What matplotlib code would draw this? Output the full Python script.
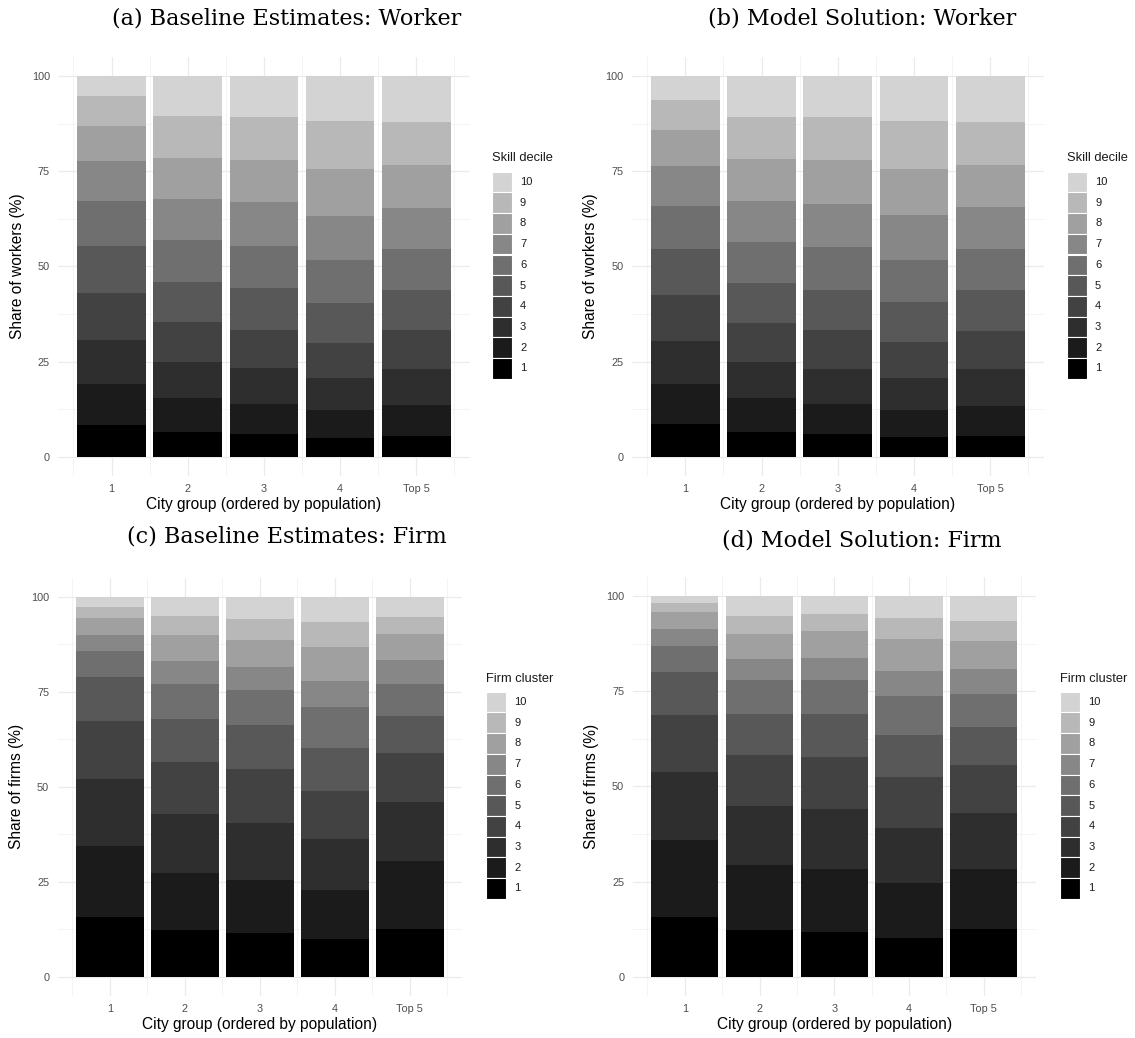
"""
City group composition by skill decile / firm cluster: 2x2 stacked bars.
"""

import matplotlib
matplotlib.use('Agg')
import matplotlib.pyplot as plt
import matplotlib.patches as patches
import numpy as np

W, H = 1135, 1038

groups = ['1', '2', '3', '4', 'Top 5']
levels = [str(i) for i in range(1, 11)]

# shares (%) per city group, decile/cluster 1 -> 10
worker_base = [
    [8.3, 10.9, 11.4, 12.4, 12.3, 11.9, 10.5, 9.2, 7.8, 5.3],
    [6.5, 8.9, 9.5, 10.5, 10.5, 11.0, 10.8, 10.8, 11.0, 10.5],
    [6.0, 7.8, 9.5, 10.0, 11.0, 11.0, 11.6, 11.0, 11.3, 10.8],
    [4.9, 7.4, 8.4, 9.2, 10.5, 11.3, 11.5, 12.4, 12.6, 11.8],
    [5.4, 8.2, 9.4, 10.3, 10.5, 10.8, 10.7, 11.3, 11.3, 12.1],
]
worker_model = [
    [8.6, 10.5, 11.3, 12.1, 12.1, 11.3, 10.5, 9.4, 7.9, 6.3],
    [6.5, 8.9, 9.5, 10.2, 10.5, 10.8, 10.8, 11.0, 11.0, 10.8],
    [6.0, 7.8, 9.2, 10.3, 10.5, 11.3, 11.3, 11.5, 11.3, 10.8],
    [5.2, 7.1, 8.4, 9.4, 10.5, 11.1, 11.8, 12.1, 12.6, 11.8],
    [5.4, 7.9, 9.7, 10.0, 10.8, 10.8, 11.0, 11.0, 11.3, 12.1],
]
firm_base = [
    [15.7, 18.7, 17.6, 15.3, 11.6, 6.8, 4.2, 4.5, 2.9, 2.7],
    [12.3, 15.0, 15.5, 13.7, 11.3, 9.2, 6.1, 6.8, 5.0, 5.1],
    [11.5, 13.9, 15.0, 14.2, 11.6, 9.2, 6.1, 7.1, 5.5, 5.9],
    [9.9, 12.9, 13.4, 12.7, 11.3, 10.8, 6.8, 9.0, 6.5, 6.7],
    [12.5, 17.9, 15.6, 12.9, 9.7, 8.4, 6.3, 6.9, 4.4, 5.4],
]
firm_model = [
    [15.7, 20.2, 17.9, 14.9, 11.3, 6.9, 4.4, 4.5, 2.4, 1.8],
    [12.3, 17.0, 15.5, 13.4, 10.8, 8.9, 5.6, 6.5, 4.7, 5.3],
    [11.7, 16.6, 15.7, 13.7, 11.3, 8.9, 5.8, 7.1, 4.5, 4.7],
    [10.2, 14.4, 14.5, 13.4, 11.0, 10.2, 6.6, 8.4, 5.5, 5.8],
    [12.5, 15.8, 14.7, 12.6, 10.0, 8.7, 6.5, 7.4, 5.2, 6.6],
]

greys = ['#000000', '#1b1b1b', '#2e2e2e', '#424242', '#585858',
         '#6f6f6f', '#878787', '#a0a0a0', '#b8b8b8', '#d3d3d3']

SANS = ['Liberation Sans', 'DejaVu Sans']
SERIF = ['DejaVu Serif']


def px_rect(left, right, top, bottom):
    return [left / W, 1 - bottom / H, (right - left) / W, (bottom - top) / H]


def draw_legend(lay, x0, title_y, keys_top, title):
    # lay: full-figure overlay axes in pixel units (y down)
    kw, kh = 20.0, 20.7
    lay.text(x0, title_y, title, ha='left', va='center', fontsize=9.3,
             family=SANS, color='#1a1a1a')
    for i, k in enumerate(range(len(levels) - 1, -1, -1)):
        y = keys_top + i * kh
        lay.add_patch(patches.Rectangle((x0, y), kw, kh, facecolor=greys[k],
                                        edgecolor='white', linewidth=0.8))
        lay.text(x0 + kw + 8.3, y + kh / 2, levels[k], ha='left',
                 va='center', fontsize=8, family=SANS, color='#1a1a1a')


def draw_panel(fig, rect, data, ylabel):
    ax = fig.add_axes(rect)
    shares = np.array(data)
    x = np.arange(1, len(groups) + 1)
    bottoms = np.zeros(len(groups))
    for k in range(len(levels)):
        ax.bar(x, shares[:, k], 0.9, bottom=bottoms, color=greys[k],
               linewidth=0, zorder=2)
        bottoms += shares[:, k]
    ax.set_xlim(0.3, 5.7)
    ax.set_ylim(-5, 105)
    ax.set_xticks(x)
    ax.set_xticklabels(groups)
    ax.set_xticks(np.arange(0.5, 6.0, 1.0), minor=True)
    ax.set_yticks([0, 25, 50, 75, 100])
    ax.set_yticks([12.5, 37.5, 62.5, 87.5], minor=True)
    ax.grid(which='major', color='#ebebeb', linewidth=0.9, zorder=0)
    ax.grid(which='minor', color='#f2f2f2', linewidth=0.6, zorder=0)
    ax.set_axisbelow(True)
    for s in ax.spines.values():
        s.set_visible(False)
    ax.tick_params(which='both', length=0)
    ax.tick_params(axis='both', pad=6, labelsize=7.8, labelcolor='#4d4d4d')
    for lab in ax.get_xticklabels() + ax.get_yticklabels():
        lab.set_family(SANS)
    ax.set_xlabel('City group (ordered by population)', fontsize=11.2,
                  family=SANS, labelpad=2)
    ax.set_ylabel(ylabel, fontsize=11.2, family=SANS, labelpad=5)
    return ax


def main():
    fig = plt.figure(figsize=(W / 100, H / 100), dpi=100)

    draw_panel(fig, px_rect(58.2, 469.7, 57.0, 475.7), worker_base,
               'Share of workers (%)')
    draw_panel(fig, px_rect(631.9, 1043.7, 57.0, 475.7), worker_model,
               'Share of workers (%)')
    draw_panel(fig, px_rect(57.5, 462.3, 577.7, 995.7), firm_base,
               'Share of firms (%)')
    draw_panel(fig, px_rect(632.5, 1036.1, 577.0, 995.7), firm_model,
               'Share of firms (%)')

    # overlay in pixel coordinates for titles and legends
    lay = fig.add_axes([0, 0, 1, 1], zorder=5)
    lay.set_xlim(0, W)
    lay.set_ylim(H, 0)
    lay.axis('off')

    titles = [('(a) Baseline Estimates: Worker', 287, 18),
              ('(b) Model Solution: Worker', 862, 18),
              ('(c) Baseline Estimates: Firm', 287, 537),
              ('(d) Model Solution: Firm', 862, 540)]
    for txt, tx, ty in titles:
        lay.text(tx, ty, txt, ha='center', va='center', fontsize=16,
                 family=SERIF, color='black')

    draw_legend(lay, 491.7, 158, 171.7, 'Skill decile')
    draw_legend(lay, 1066.7, 158, 171.7, 'Skill decile')
    draw_legend(lay, 486.0, 679, 691.7, 'Firm cluster')
    draw_legend(lay, 1060.0, 679, 691.7, 'Firm cluster')

    fig.savefig('out.png', dpi=100)
    plt.close(fig)


if __name__ == "__main__":
    main()
